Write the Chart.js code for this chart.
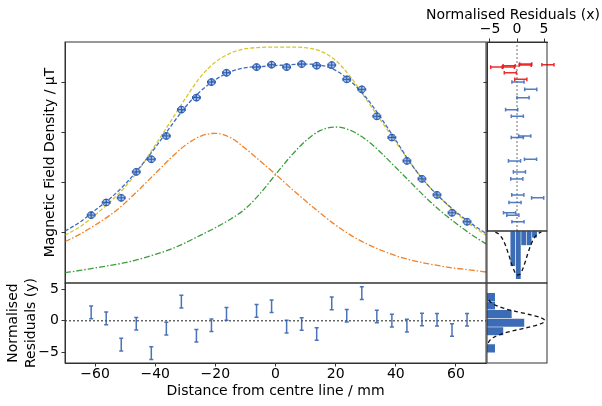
<!DOCTYPE html>
<html>
<head>
<meta charset="utf-8">
<title>Field profile fit</title>
<script src="https://cdn.jsdelivr.net/npm/chart.js@4.4.1/dist/chart.umd.min.js"></script>
<style>
  body { margin: 0; background: #fff; }
  #wrap { position: relative; width: 602px; height: 406px; }
  #wrap canvas { position: absolute; left: 0; top: 0; }
</style>
</head>
<body>
<div id="wrap">
  <canvas id="mainChart" width="602" height="406"></canvas>
  <canvas id="residChart" width="602" height="406"></canvas>
  <canvas id="sideChart" width="602" height="406"></canvas>
  <canvas id="xHistChart" width="602" height="406"></canvas>
  <canvas id="yHistChart" width="602" height="406"></canvas>
</div>
<script>
// MEASUREMENTS (distance in mm, field in uT)
const posMM = [-61.3, -56.3, -51.3, -46.3, -41.3, -36.3, -31.3, -26.3, -21.3, -16.3,
  -6.3, -1.3, 3.7, 8.7, 13.7, 18.7, 23.7, 28.7, 33.7, 38.7, 43.7, 48.7, 53.7, 58.7, 63.7];
const fieldUT = [13.52, 16.04, 16.96, 22.13, 24.65, 29.29, 34.53, 36.92, 40.02, 41.87,
  43.0, 43.48, 43.0, 43.6, 43.28, 43.4, 40.56, 38.57, 33.2, 28.97, 24.32, 20.74, 17.55, 13.98, 12.19];
// normalised residuals
const residY = [1.34, 0.39, -3.79, -0.47, -5.13, -1.24, 3.05, -2.37, -0.71, 1.1,
  1.58, 2.32, -0.92, -0.5, -2.1, 2.76, 0.79, 4.39, 0.68, 0.03, -0.76, 0.21, 0.16, -1.45, 0.16];
const residX = [-0.77, -0.37, 3.82, 0.45, 2.5, 1.43, -0.99, 1.12, 0.18, -1.23,
  -3.75, 5.72, -1.6, 1.62, -1.45, 1.5, 0.7, 2.54, 0.06, 0.06, -0.46, -0.04, 0.15, -1.38, 0.18];
// points flagged red in the x residual panel
const flaggedIdx = [9, 10, 11, 12, 13, 14, 15, 16];

// MODEL CURVES
const curveX = [-70, -65, -60, -55, -50, -45, -40, -35, -30, -25, -20, -15, -10, -5, 0,
  5, 10, 15, 20, 25, 30, 35, 40, 45, 50, 55, 60, 65, 70];
const fitModel = [10.34, 12.13, 14.51, 16.83, 19.68, 23.12, 26.97, 31.07, 35.05, 38.17, 40.5, 42.09, 42.88, 43.1, 43.3,
  43.5, 43.6, 43.4, 42.35, 40.16, 37.04, 32.94, 28.43, 23.8, 19.94, 16.84, 14.17, 11.87, 9.88];
const idealSum = [9.54, 11.19, 13.52, 16.16, 19.15, 22.92, 27.44, 32.07, 36.72, 41.01, 44.0, 45.79, 46.66, 46.92, 46.98,
  46.98, 46.86, 46.18, 44.33, 41.01, 36.72, 32.4, 28.09, 23.8, 19.94, 16.84, 13.98, 11.53, 9.54];
const coilA = [8.21, 9.74, 11.53, 13.52, 15.96, 18.83, 21.8, 24.79, 27.44, 29.22, 29.82, 28.97, 26.78, 24.25, 21.67,
  18.95, 16.36, 13.86, 11.53, 9.54, 7.89, 6.56, 5.43, 4.57, 3.92, 3.38, 2.92, 2.58, 2.19];
const coilB = [2.05, 2.5, 3.0, 3.5, 4.05, 4.8, 5.7, 6.7, 8.0, 9.5, 11.0, 12.7, 14.8, 17.9, 21.6,
  25.2, 28.3, 30.4, 31.07, 30.4, 28.6, 26.0, 23.0, 20.0, 17.0, 14.3, 11.9, 9.7, 7.8];

// HISTOGRAMS (density) AND THEIR GAUSSIAN CURVES
const xHistCentres = [-0.76, 0.24, 1.24, 2.24, 3.24];
const xHistDensity = [0.318, 0.435, 0.13, 0.13, 0.06];
const xGaussZ = [-4, -3.5, -3, -2.5, -2, -1.5, -1, -0.5, 0, 0.5, 1, 1.5, 2, 2.5, 3, 3.5, 4, 4.5];
const xGaussDensity = [0.01, 0.023, 0.047, 0.087, 0.146, 0.219, 0.296, 0.36, 0.396, 0.391,
  0.349, 0.281, 0.203, 0.133, 0.078, 0.041, 0.02, 0.008];
const yHistCentres = [3.78, 2.42, 1.06, -0.3, -1.66, -3.02, -4.38];
const yHistDensity = [0.057, 0.057, 0.172, 0.259, 0.114, 0, 0.057];
const yGaussZ = [-3.5, -3, -2.5, -2, -1.5, -1, -0.5, 0, 0.5, 1, 1.5, 2, 2.5, 3, 3.5];
const yGaussDensity = [0.008, 0.023, 0.056, 0.113, 0.196, 0.291, 0.369, 0.399, 0.369, 0.291, 0.196, 0.113, 0.056, 0.023, 0.008];

// TICKS
const mainYTicks = [10, 20, 30, 40];
const residXTicks = [-60, -40, -20, 0, 20, 40, 60];
const residYTicks = [-5, 0, 5];
const sideXTicks = [-5, 0, 5];

Chart.defaults.font.family = "'DejaVu Sans', sans-serif";
Chart.defaults.font.size = 14;
Chart.defaults.color = "#000";
Chart.defaults.animation = false;
Chart.defaults.responsive = false;
Chart.defaults.plugins.legend.display = false;
Chart.defaults.plugins.tooltip.enabled = false;

const axisLine = "#333";
const blue = "#3d6cc0";
const barBlue = "#3b6cb5";

const pts = (xs, ys) => xs.map((x, i) => ({ x: x, y: ys[i] }));
const fmt = (v) => String(v).replace("-", "\u2212");
const fixedTicks = (vals) => (scale) => { scale.ticks = vals.map((v) => ({ value: v })); };
const tickGrid = () => ({ drawOnChartArea: false, tickLength: 3.5, tickColor: axisLine, color: axisLine });
// hidden scale: no ticks, so bar widths come from the bin spacing alone
const hiddenScale = (extra) => Object.assign({ type: "linear", display: false, afterBuildTicks: fixedTicks([]) }, extra);

// ERROR BARS
const errorBars = {
  id: "errorBars",
  afterDatasetsDraw(chart) {
    const ctx = chart.ctx;
    chart.data.datasets.forEach((ds, di) => {
      if (ds.errX === undefined && ds.errY === undefined) return;
      const meta = chart.getDatasetMeta(di);
      const xs = chart.scales[meta.xAxisID];
      const ys = chart.scales[meta.yAxisID];
      const cap = ds.cap || 2;
      ctx.save();
      ctx.lineWidth = ds.errWidth || 1;
      ds.data.forEach((p, i) => {
        ctx.strokeStyle = Array.isArray(ds.errColor) ? ds.errColor[i] : ds.errColor;
        const cx = xs.getPixelForValue(p.x);
        const cy = ys.getPixelForValue(p.y);
        ctx.beginPath();
        if (ds.errX !== undefined) {
          const x0 = xs.getPixelForValue(p.x - ds.errX);
          const x1 = xs.getPixelForValue(p.x + ds.errX);
          ctx.moveTo(x0, cy); ctx.lineTo(x1, cy);
          ctx.moveTo(x0, cy - cap); ctx.lineTo(x0, cy + cap);
          ctx.moveTo(x1, cy - cap); ctx.lineTo(x1, cy + cap);
        }
        if (ds.errY !== undefined) {
          const y0 = ys.getPixelForValue(p.y - ds.errY);
          const y1 = ys.getPixelForValue(p.y + ds.errY);
          ctx.moveTo(cx, y0); ctx.lineTo(cx, y1);
          ctx.moveTo(cx - cap, y0); ctx.lineTo(cx + cap, y0);
          ctx.moveTo(cx - cap, y1); ctx.lineTo(cx + cap, y1);
        }
        ctx.stroke();
      });
      ctx.restore();
    });
  }
};

// BOX ROUND EACH PANEL
const frame = {
  id: "frame",
  afterDraw(chart) {
    const { ctx, chartArea: a } = chart;
    ctx.save();
    ctx.strokeStyle = axisLine;
    ctx.lineWidth = 1;
    ctx.strokeRect(a.left, a.top, a.right - a.left, a.bottom - a.top);
    ctx.restore();
  }
};

// FREE TEXT (titles that must not be squeezed)
function axisText(items) {
  return {
    id: "axisText",
    afterDraw(chart) {
      const ctx = chart.ctx;
      ctx.save();
      ctx.font = "14px 'DejaVu Sans'";
      ctx.fillStyle = "#000";
      ctx.textAlign = "center";
      ctx.textBaseline = "middle";
      items.forEach((t) => {
        ctx.save();
        ctx.translate(t.x, t.y);
        if (t.rotate) ctx.rotate(-Math.PI / 2);
        ctx.fillText(t.text, 0, 0);
        ctx.restore();
      });
      ctx.restore();
    }
  };
}

const curve = (label, ys, color, dash) => ({
  label: label,
  data: pts(curveX, ys),
  showLine: true,
  borderColor: color,
  borderDash: dash,
  borderWidth: 1.3,
  pointRadius: 0,
  cubicInterpolationMode: "monotone"
});

const histBars = (data) => ({
  data: data,
  backgroundColor: barBlue,
  borderColor: "rgba(255,255,255,0.6)",
  borderWidth: 0.6,
  barPercentage: 1,
  categoryPercentage: 1
});

const gaussLine = (data) => ({
  type: "line",
  data: data,
  borderColor: "#111",
  borderDash: [4, 3],
  borderWidth: 1.3,
  pointRadius: 0,
  cubicInterpolationMode: "monotone"
});

// MAIN PANEL
new Chart(document.getElementById("mainChart"), {
  type: "scatter",
  data: {
    datasets: [
      {
        label: "Measured",
        data: pts(posMM, fieldUT),
        pointRadius: 3.5,
        pointBackgroundColor: "rgba(95,140,215,0.55)",
        pointBorderColor: blue,
        pointBorderWidth: 1,
        errX: 1.3,
        errY: 0.6,
        errColor: "#2d5aa8",
        cap: 1.5
      },
      curve("Fit", fitModel, blue, [4, 2]),
      curve("Sum", idealSum, "#d6c62c", [4, 2]),
      curve("Coil A", coilA, "#f0822a", [6, 2, 1.5, 2]),
      curve("Coil B", coilB, "#3c9c3c", [6, 2, 1.5, 2])
    ]
  },
  options: {
    layout: { padding: { left: 42, top: 42, right: 116, bottom: 123 } },
    scales: {
      x: { type: "linear", min: -70, max: 70, display: false },
      y: {
        min: 0,
        max: 48,
        afterFit: (s) => { s.width = 23; },
        afterBuildTicks: fixedTicks(mainYTicks),
        ticks: { callback: () => "" },
        grid: tickGrid(),
        border: { color: axisLine },
        title: { display: true, text: "Magnetic Field Density / \u03bcT", padding: 0 }
      }
    }
  },
  plugins: [errorBars, frame]
});

// RESIDUALS (y) PANEL
new Chart(document.getElementById("residChart"), {
  type: "scatter",
  data: {
    datasets: [
      {
        label: "Residual (y)",
        data: pts(posMM, residY),
        pointRadius: 0,
        errY: 1,
        errColor: "rgba(43,90,170,0.85)",
        errWidth: 1.5,
        cap: 2
      },
      {
        label: "zero",
        data: [{ x: -70, y: 0 }, { x: 70, y: 0 }],
        showLine: true,
        borderColor: "#444",
        borderDash: [2, 2],
        borderWidth: 1.2,
        pointRadius: 0
      }
    ]
  },
  options: {
    layout: { padding: { left: 5, top: 283, right: 116, bottom: 6 } },
    scales: {
      x: {
        type: "linear",
        min: -70,
        max: 70,
        afterFit: (s) => { s.height = 37; },
        afterBuildTicks: fixedTicks(residXTicks),
        ticks: { callback: fmt, padding: -1, maxRotation: 0, autoSkip: false },
        grid: tickGrid(),
        border: { color: axisLine },
        title: { display: true, text: "Distance from centre line / mm", padding: 0 }
      },
      y: {
        min: -6.7,
        max: 6,
        afterFit: (s) => { s.width = 60; },
        afterBuildTicks: fixedTicks(residYTicks),
        ticks: { callback: fmt, padding: 2.5 },
        grid: tickGrid(),
        border: { color: axisLine }
      }
    }
  },
  plugins: [errorBars, frame, axisText([
    { text: "Normalised", x: 13.5, y: 323, rotate: true },
    { text: "Residuals (y)", x: 31, y: 323, rotate: true }
  ])]
});

// RESIDUALS (x) SIDE PANEL
new Chart(document.getElementById("sideChart"), {
  type: "scatter",
  data: {
    datasets: [
      {
        label: "Residual (x)",
        data: pts(residX, fieldUT),
        pointRadius: 0,
        errX: 1.12,
        errColor: residX.map((v, i) => flaggedIdx.includes(i) ? "rgba(240,20,20,0.9)" : "rgba(50,100,185,0.85)"),
        errWidth: 1.5,
        cap: 1.8
      },
      {
        label: "zero",
        data: [{ x: 0, y: 10.36 }, { x: 0, y: 48 }],
        showLine: true,
        borderColor: "#888",
        borderDash: [2, 2],
        borderWidth: 1.2,
        pointRadius: 0
      }
    ]
  },
  options: {
    layout: { padding: { left: 487, top: 6, right: 55, bottom: 175 } },
    scales: {
      x: {
        type: "linear",
        position: "top",
        min: -5.55,
        max: 5.55,
        afterFit: (s) => { s.height = 36; },
        afterBuildTicks: fixedTicks(sideXTicks),
        ticks: { callback: fmt, padding: 1, maxRotation: 0, autoSkip: false },
        grid: tickGrid(),
        border: { color: axisLine }
      },
      y: {
        min: 10.36,
        max: 48,
        afterFit: (s) => { s.width = 0; },
        afterBuildTicks: fixedTicks([20, 30, 40]),
        ticks: { callback: () => "" },
        grid: tickGrid(),
        border: { color: axisLine }
      }
    }
  },
  plugins: [errorBars, frame, axisText([{ text: "Normalised Residuals (x)", x: 513, y: 15 }])]
});

// HISTOGRAM OF x RESIDUALS
new Chart(document.getElementById("xHistChart"), {
  type: "bar",
  data: {
    datasets: [
      gaussLine(pts(xGaussZ, xGaussDensity)),
      histBars(pts(xHistCentres, xHistDensity))
    ]
  },
  options: {
    layout: { padding: { left: 487, top: 231, right: 55, bottom: 123 } },
    scales: {
      x: hiddenScale({ min: -5.55, max: 5.55 }),
      y: hiddenScale({ reverse: true, min: 0, max: 0.468 })
    }
  },
  plugins: [frame]
});

// HISTOGRAM OF y RESIDUALS
new Chart(document.getElementById("yHistChart"), {
  type: "bar",
  data: {
    datasets: [
      gaussLine(yGaussZ.map((z, i) => ({ x: yGaussDensity[i], y: z }))),
      histBars(yHistCentres.map((c, i) => ({ x: yHistDensity[i], y: c })))
    ]
  },
  options: {
    indexAxis: "y",
    layout: { padding: { left: 487, top: 283, right: 55, bottom: 43 } },
    scales: {
      x: hiddenScale({ min: 0, max: 0.414 }),
      y: hiddenScale({ min: -6.7, max: 6 })
    }
  },
  plugins: [frame]
});
</script>
</body>
</html>
